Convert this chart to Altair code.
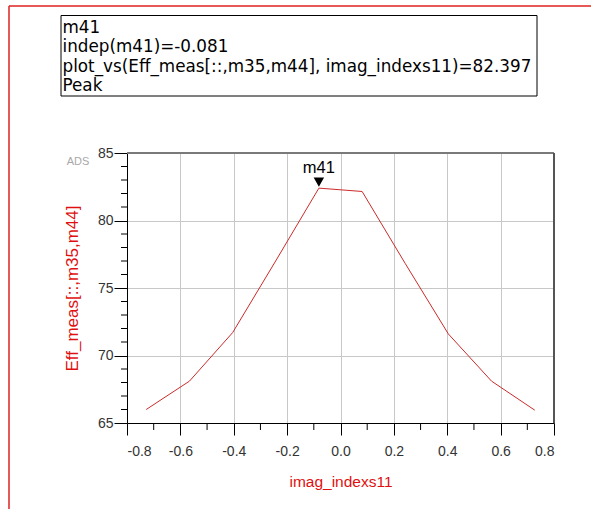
import altair as alt
import pandas as pd

# ---- data ----
x_vals = [-0.728, -0.566, -0.404, -0.243, -0.081, 0.081, 0.243, 0.404, 0.566, 0.728]
y_vals = [66.0, 68.1, 71.7, 77.0, 82.397, 82.15, 76.8, 71.6, 68.1, 65.95]
x_major = [-0.8, -0.6, -0.4, -0.2, 0.0, 0.2, 0.4, 0.6, 0.8]
x_minor = [-0.7, -0.5, -0.3, -0.1, 0.1, 0.3, 0.5, 0.7]
y_major = [65, 70, 75, 80, 85]
y_minor = [66, 67, 68, 69, 71, 72, 73, 74, 76, 77, 78, 79, 81, 82, 83, 84]
marker_name = "m41"
marker_x = -0.081
marker_y = 82.397
box_lines = [
    "m41",
    "indep(m41)=-0.081",
    "plot_vs(Eff_meas[::,m35,m44], imag_indexs11)=82.397",
    "Peak",
]
x_title = "imag_indexs11"
y_title = "Eff_meas[::,m35,m44]"

W, H = 427, 270
PL, PT = 127, 153
FONT = "Liberation Sans"
BOXFONT = "DejaVu Sans"
RED = "#e01010"

df = pd.DataFrame({"x": x_vals, "y": y_vals})
mk = pd.DataFrame({"x": [marker_x], "y": [marker_y], "name": [marker_name]})
xminor_df = pd.DataFrame({"x": x_minor})
yminor_df = pd.DataFrame({"y": y_minor})

xs = alt.Scale(domain=[-0.8, 0.8], nice=False, zero=False)
ys = alt.Scale(domain=[65, 85], nice=False, zero=False)

x_axis = alt.Axis(
    values=x_major, format=".1f", labelExpr="replace(datum.label, '\u2212', '-')",
    title=x_title, titleColor=RED,
    titleFont=FONT, titleFontSize=15.5, titleFontWeight="normal", titlePadding=16,
    labelFont=FONT, labelFontSize=14, labelColor="#333333", labelPadding=9,
    tickColor="#000000", tickSize=12, domainColor="#000000",
    gridColor="#c8c8c8", gridWidth=1, grid=True,
)
y_axis = alt.Axis(
    values=y_major, format="d", title=y_title, titleColor=RED,
    titleFont=FONT, titleFontSize=17, titleFontWeight="normal", titlePadding=16,
    labelFont=FONT, labelFontSize=14, labelColor="#333333", labelPadding=1,
    tickColor="#000000", tickSize=13, domainColor="#000000",
    gridColor="#c8c8c8", gridWidth=1, grid=True,
)

line = alt.Chart(df).mark_line(color="#cc2b2b", strokeWidth=1).encode(
    x=alt.X("x:Q", scale=xs, axis=x_axis),
    y=alt.Y("y:Q", scale=ys, axis=y_axis),
)

xminor = alt.Chart(xminor_df).mark_rule(color="#000000", strokeWidth=1).encode(
    x=alt.X("x:Q", scale=xs), y=alt.value(H), y2=alt.value(H + 7)
)
yminor = alt.Chart(yminor_df).mark_rule(color="#000000", strokeWidth=1).encode(
    y=alt.Y("y:Q", scale=ys), x=alt.value(-6), x2=alt.value(0)
)

top_border = alt.Chart(mk).mark_rule(color="#7a7a7a", strokeWidth=2).encode(
    x=alt.value(0), x2=alt.value(W), y=alt.value(0)
)
right_border = alt.Chart(mk).mark_rule(color="#555555", strokeWidth=2).encode(
    x=alt.value(W), y=alt.value(0), y2=alt.value(H)
)

tri = alt.Chart(mk).mark_point(
    shape="triangle-down", filled=True, color="#000000", size=110, opacity=1, yOffset=-6
).encode(x=alt.X("x:Q", scale=xs), y=alt.Y("y:Q", scale=ys))
mk_text = alt.Chart(mk).mark_text(
    font=FONT, fontSize=16.5, color="#000000", baseline="alphabetic", dy=-15
).encode(x=alt.X("x:Q", scale=xs), y=alt.Y("y:Q", scale=ys), text="name:N")

ads = alt.Chart(mk).mark_text(
    text="ADS", font=FONT, fontSize=11, color="#a8a8a8"
).encode(x=alt.value(78 - PL), y=alt.value(162 - PT))

# red outer frame
frame_top = alt.Chart(mk).mark_rule(color="#dd2222", strokeWidth=1.5).encode(
    x=alt.value(9 - PL), x2=alt.value(591 - PL), y=alt.value(6 - PT)
)
frame_left = alt.Chart(mk).mark_rule(color="#dd2222", strokeWidth=1.5).encode(
    x=alt.value(9 - PL), y=alt.value(6 - PT), y2=alt.value(509 - PT)
)

box = alt.Chart(mk).mark_rect(fill="#ffffff", stroke="#000000", strokeWidth=1).encode(
    x=alt.value(61 - PL), x2=alt.value(537 - PL), y=alt.value(15.5 - PT), y2=alt.value(96 - PT)
)
baselines = [33.3, 52.3, 71.5, 90.7]
box_texts = [
    alt.Chart(mk).mark_text(
        text=t, font=BOXFONT, fontSize=16.8, color="#000000", align="left", baseline="alphabetic"
    ).encode(x=alt.value(62.5 - PL), y=alt.value(b - PT))
    for t, b in zip(box_lines, baselines)
]

chart = alt.layer(
    line, xminor, yminor, top_border, right_border, tri, mk_text, ads,
    frame_top, frame_left, box, *box_texts
).properties(
    width=W, height=H,
    autosize=alt.AutoSizeParams(type="none"),
    padding={"left": PL, "top": PT, "right": 591 - PL - W, "bottom": 509 - PT - H},
    background="#ffffff",
).configure_view(stroke=None)

chart.save("out.html", embed_options={"renderer": "svg", "actions": False})
